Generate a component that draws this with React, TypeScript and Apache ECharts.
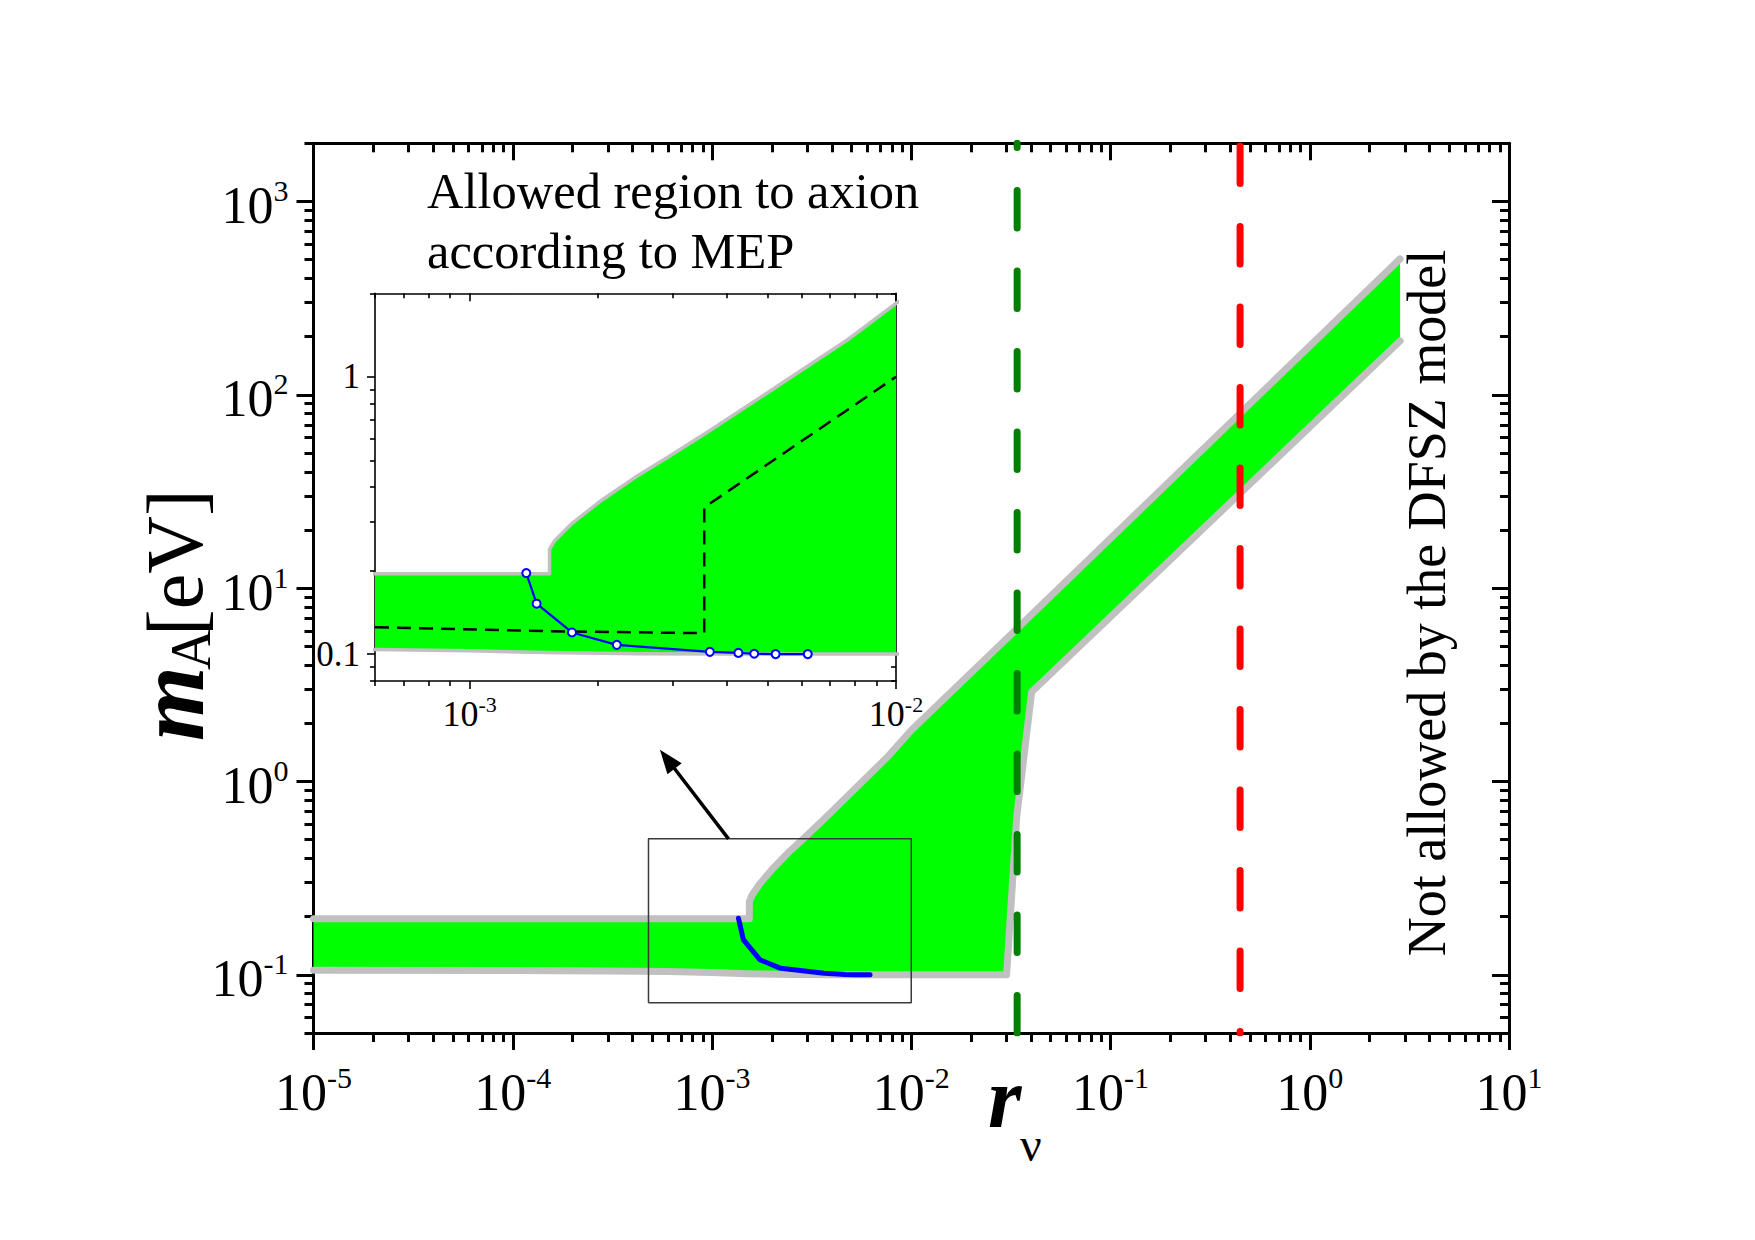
import React, { useEffect, useRef } from 'react';
import * as echarts from 'echarts';

const SERIF = '"Liberation Serif", "Times New Roman", serif';

// Axis ranges (r_nu horizontally, m_A in eV vertically)
const MAIN_R_RANGE = [1e-5, 10];
const MAIN_M_RANGE = [0.05, 2000];
const INSET_R_RANGE = [6e-4, 1e-2];
const INSET_M_RANGE = [0.08, 2];

// Allowed region: upper edge
const UPPER_R = [1e-5, 1.54e-3, 1.54e-3, 1.585e-3, 1.73e-3, 2.02e-3, 2.44e-3, 2.96e-3, 3.6e-3, 5.3e-3, 7.7e-3, 1e-2, 0.033, 2.84];
const UPPER_M = [0.195, 0.195, 0.239, 0.257, 0.294, 0.355, 0.433, 0.52, 0.63, 0.93, 1.36, 1.84, 6.0, 505];

// Allowed region: lower edge
const LOWER_R = [1e-5, 1e-4, 3e-4, 6e-4, 1e-3, 1.5e-3, 2.5e-3, 4e-3, 0.0301, 0.0338, 0.0402, 2.84];
const LOWER_M = [0.1055, 0.1052, 0.1047, 0.104, 0.1028, 0.1013, 0.1003, 0.1, 0.1, 0.65, 2.9, 190];

// MEP curve
const MEP_R = [1.358e-3, 1.436e-3, 1.738e-3, 2.214e-3, 3.66e-3, 4.27e-3, 4.65e-3, 5.22e-3, 6.21e-3];
const MEP_M = [0.196, 0.152, 0.1197, 0.108, 0.1019, 0.101, 0.1003, 0.1, 0.1];

// Dashed reference curve shown in the inset
const DASH_R = [6e-4, 1.5e-3, 3.55e-3, 3.55e-3, 1e-2];
const DASH_M = [0.125, 0.121, 0.119, 0.338, 1.0];

// Vertical limits on r_nu
const GREEN_LIMIT_R = 0.034;
const RED_LIMIT_R = 0.447;

// Zoomed window marked on the main plot, and the pointer towards the inset
const BOX_R = [4.8e-4, 1e-2];
const BOX_M = [0.0716, 0.505];
const ARROW_R = [1.21e-3, 5.48e-4];
const ARROW_M = [0.505, 1.46];

const zip = (xs: number[], ys: number[]) => xs.map((x, i) => [x, ys[i]]);

const upperEdge = zip(UPPER_R, UPPER_M);
const lowerEdge = zip(LOWER_R, LOWER_M);
const regionPolygon = upperEdge.concat(lowerEdge.slice().reverse());
const mepCurve = zip(MEP_R, MEP_M);
const dashCurve = zip(DASH_R, DASH_M);
const boxPath = [
  [BOX_R[0], BOX_M[0]],
  [BOX_R[1], BOX_M[0]],
  [BOX_R[1], BOX_M[1]],
  [BOX_R[0], BOX_M[1]],
  [BOX_R[0], BOX_M[0]],
];
const arrowPts = zip(ARROW_R, ARROW_M);

// Decade (1·10^n) and sub-decade (k·10^n) tick positions inside a range
function logTicks(lo: number, hi: number) {
  const major: number[] = [];
  const minor: number[] = [];
  const e0 = Math.floor(Math.log10(lo));
  const e1 = Math.ceil(Math.log10(hi));
  for (let n = e0; n <= e1; n++) {
    for (let k = 1; k <= 9; k++) {
      const v = Number(`${k}e${n}`);
      if (v < lo * 0.999999 || v > hi * 1.000001) continue;
      (k === 1 ? major : minor).push(v);
    }
  }
  return { major, minor };
}

const mainX = logTicks(MAIN_R_RANGE[0], MAIN_R_RANGE[1]);
const mainY = logTicks(MAIN_M_RANGE[0], MAIN_M_RANGE[1]);
const insetX = logTicks(INSET_R_RANGE[0], INSET_R_RANGE[1]);
const insetY = logTicks(INSET_M_RANGE[0], INSET_M_RANGE[1]);

const powLabel = (v: number) => `{b|10}{s|${Math.round(Math.log10(v))}}`;

const mainLabel = (margin: number) => ({
  show: true,
  margin,
  fontFamily: SERIF,
  color: '#000',
  formatter: powLabel,
  rich: {
    b: { fontFamily: SERIF, fontSize: 52, lineHeight: 52, color: '#000', padding: [8, 0, 0, 0] },
    s: { fontFamily: SERIF, fontSize: 30, lineHeight: 30, color: '#000', verticalAlign: 'top' },
  },
});

const insetXLabel = {
  show: true,
  margin: 12,
  fontFamily: SERIF,
  color: '#000',
  formatter: powLabel,
  rich: {
    b: { fontFamily: SERIF, fontSize: 36, lineHeight: 36, color: '#000', padding: [6, 0, 0, 0] },
    s: { fontFamily: SERIF, fontSize: 22, lineHeight: 22, color: '#000', verticalAlign: 'top' },
  },
};

const insetYLabel = {
  show: true,
  margin: 15,
  fontFamily: SERIF,
  fontSize: 35,
  color: '#000',
  formatter: (v: number) => String(v),
};

function logAxis(
  gridIndex: number,
  position: string,
  range: number[],
  values: number[],
  o: { len: number; width: number; inside: boolean; line?: boolean; label?: any }
) {
  return {
    type: 'log',
    logBase: 10,
    gridIndex,
    position,
    min: range[0],
    max: range[1],
    axisLine: { show: !!o.line, onZero: false, lineStyle: { color: '#000', width: o.width } },
    axisTick: {
      show: true,
      inside: o.inside,
      length: o.len,
      customValues: values,
      lineStyle: { color: '#000', width: o.width },
    },
    axisLabel: o.label ? { ...o.label, customValues: values } : { show: false },
    splitLine: { show: false },
    minorTick: { show: false },
    minorSplitLine: { show: false },
    axisPointer: { show: false },
    silent: true,
  };
}

const MW = 3; // main frame stroke
const IW = 1.6; // inset frame stroke

const xAxes = [
  // main plot
  logAxis(0, 'bottom', MAIN_R_RANGE, mainX.major, { len: 17, width: MW, inside: false, line: true, label: mainLabel(29) }),
  logAxis(0, 'bottom', MAIN_R_RANGE, mainX.minor, { len: 9, width: MW, inside: false }),
  logAxis(0, 'top', MAIN_R_RANGE, mainX.major, { len: 17, width: MW, inside: true, line: true }),
  logAxis(0, 'top', MAIN_R_RANGE, mainX.minor, { len: 9, width: MW, inside: true }),
  // inset
  logAxis(1, 'bottom', INSET_R_RANGE, insetX.major, { len: 8, width: IW, inside: false, line: true, label: insetXLabel }),
  logAxis(1, 'bottom', INSET_R_RANGE, insetX.minor, { len: 5, width: IW, inside: false }),
  logAxis(1, 'top', INSET_R_RANGE, insetX.major, { len: 8, width: IW, inside: true, line: true }),
  logAxis(1, 'top', INSET_R_RANGE, insetX.minor, { len: 5, width: IW, inside: true }),
];

const yAxes = [
  logAxis(0, 'left', MAIN_M_RANGE, mainY.major, { len: 17, width: MW, inside: false, line: true, label: mainLabel(25) }),
  logAxis(0, 'left', MAIN_M_RANGE, mainY.minor, { len: 9, width: MW, inside: false }),
  logAxis(0, 'right', MAIN_M_RANGE, mainY.major, { len: 17, width: MW, inside: true, line: true }),
  logAxis(0, 'right', MAIN_M_RANGE, mainY.minor, { len: 9, width: MW, inside: true }),
  logAxis(1, 'left', INSET_M_RANGE, insetY.major, { len: 8, width: IW, inside: false, line: true, label: insetYLabel }),
  logAxis(1, 'left', INSET_M_RANGE, insetY.minor, { len: 5, width: IW, inside: false }),
  logAxis(1, 'right', INSET_M_RANGE, insetY.major, { len: 8, width: IW, inside: true, line: true }),
  logAxis(1, 'right', INSET_M_RANGE, insetY.minor, { len: 5, width: IW, inside: true }),
];

const GREEN = '#00FF00';
const GREY = '#C0C0C0';
const BLUE = '#0000FF';

function regionSeries(axisIndex: number, edgeWidth: number) {
  return [
    {
      type: 'custom',
      xAxisIndex: axisIndex,
      yAxisIndex: axisIndex,
      clip: true,
      silent: true,
      z: 1,
      data: regionPolygon,
      renderItem: (params: any, api: any) => {
        if (params.dataIndex !== 0) return null;
        const pts = regionPolygon.map((p) => api.coord(p));
        return { type: 'polygon', shape: { points: pts }, style: { fill: GREEN } };
      },
    },
    {
      type: 'line',
      xAxisIndex: axisIndex,
      yAxisIndex: axisIndex,
      data: upperEdge,
      symbol: 'none',
      silent: true,
      z: 2,
      lineStyle: { color: GREY, width: edgeWidth, cap: 'round', join: 'round' },
    },
    {
      type: 'line',
      xAxisIndex: axisIndex,
      yAxisIndex: axisIndex,
      data: lowerEdge,
      symbol: 'none',
      silent: true,
      z: 2,
      lineStyle: { color: GREY, width: edgeWidth, cap: 'round', join: 'round' },
    },
  ];
}

function verticalLimit(r: number, color: string, offset: number) {
  return {
    type: 'line',
    xAxisIndex: 0,
    yAxisIndex: 0,
    data: [
      [r, MAIN_M_RANGE[0]],
      [r, MAIN_M_RANGE[1]],
    ],
    symbol: 'none',
    silent: true,
    z: 4,
    lineStyle: { color, width: 7, type: [37.5, 43], dashOffset: offset, cap: 'round' },
  };
}

function buildOption() {
  return {
    animation: false,
    backgroundColor: '#ffffff',
    textStyle: { fontFamily: SERIF },
    grid: [
      { left: 313.5, top: 143.3, width: 1195.5, height: 889.7, containLabel: false, outerBoundsMode: 'none' },
      {
        left: 375,
        top: 293.3,
        width: 521,
        height: 387.7,
        containLabel: false,
        outerBoundsMode: 'none',
        show: true,
        backgroundColor: '#ffffff',
        borderWidth: 0,
      },
    ],
    xAxis: xAxes,
    yAxis: yAxes,
    series: [
      // main plot
      ...regionSeries(0, 7),
      {
        type: 'line',
        xAxisIndex: 0,
        yAxisIndex: 0,
        data: mepCurve,
        symbol: 'none',
        silent: true,
        z: 3,
        lineStyle: { color: BLUE, width: 5, cap: 'round', join: 'round' },
      },
      verticalLimit(GREEN_LIMIT_R, '#008000', 0),
      verticalLimit(RED_LIMIT_R, '#FF0000', 35.5),
      {
        type: 'line',
        xAxisIndex: 0,
        yAxisIndex: 0,
        data: boxPath,
        symbol: 'none',
        silent: true,
        z: 5,
        lineStyle: { color: '#3a3a3a', width: 1.5 },
      },
      {
        type: 'custom',
        xAxisIndex: 0,
        yAxisIndex: 0,
        clip: false,
        silent: true,
        z: 6,
        data: arrowPts,
        renderItem: (params: any, api: any) => {
          if (params.dataIndex !== 0) return null;
          const a = api.coord(arrowPts[0]);
          const b = api.coord(arrowPts[1]);
          const dx = b[0] - a[0];
          const dy = b[1] - a[1];
          const len = Math.hypot(dx, dy);
          const ux = dx / len;
          const uy = dy / len;
          const headLen = 24;
          const half = 9;
          const bx = b[0] - ux * headLen;
          const by = b[1] - uy * headLen;
          return {
            type: 'group',
            children: [
              {
                type: 'line',
                shape: { x1: a[0], y1: a[1], x2: bx + ux * 4, y2: by + uy * 4 },
                style: { stroke: '#000', lineWidth: 3.5 },
              },
              {
                type: 'polygon',
                shape: {
                  points: [
                    b,
                    [bx - uy * half, by + ux * half],
                    [bx + uy * half, by - ux * half],
                  ],
                },
                style: { fill: '#000' },
              },
            ],
          };
        },
      },
      // inset
      ...regionSeries(4, 3.5),
      {
        type: 'line',
        xAxisIndex: 4,
        yAxisIndex: 4,
        data: dashCurve,
        symbol: 'none',
        silent: true,
        z: 3,
        lineStyle: { color: '#000', width: 2.5, type: [14, 8] },
      },
      {
        type: 'line',
        xAxisIndex: 4,
        yAxisIndex: 4,
        data: mepCurve,
        symbol: 'emptyCircle',
        symbolSize: 8,
        silent: true,
        z: 4,
        itemStyle: { color: BLUE, borderColor: BLUE, borderWidth: 1.4 },
        lineStyle: { color: BLUE, width: 2.2 },
      },
    ],
    graphic: [
      {
        type: 'text',
        x: 427,
        y: 191,
        silent: true,
        style: { text: 'Allowed region to axion', font: `50.5px ${SERIF}`, fill: '#000', align: 'left', verticalAlign: 'middle' },
      },
      {
        type: 'text',
        x: 427,
        y: 251,
        silent: true,
        style: { text: 'according to MEP', font: `50.5px ${SERIF}`, fill: '#000', align: 'left', verticalAlign: 'middle' },
      },
      {
        type: 'text',
        x: 1427,
        y: 603,
        rotation: Math.PI / 2,
        silent: true,
        style: {
          text: 'Not allowed by the DFSZ model',
          font: `54px ${SERIF}`,
          fill: '#000',
          align: 'center',
          verticalAlign: 'middle',
        },
      },
      // axis title m_A [eV]
      {
        type: 'group',
        x: 202,
        y: 741,
        rotation: Math.PI / 2,
        silent: true,
        children: [
          {
            type: 'text',
            x: 0,
            y: -32,
            style: { text: 'm', font: `italic bold 96px ${SERIF}`, fill: '#000', align: 'left', verticalAlign: 'middle' },
          },
          {
            type: 'text',
            x: 71,
            y: -11,
            style: { text: 'A', font: `56px ${SERIF}`, fill: '#000', align: 'left', verticalAlign: 'middle' },
          },
          {
            type: 'text',
            x: 105,
            y: -27,
            style: { text: '[eV]', font: `80px ${SERIF}`, fill: '#000', align: 'left', verticalAlign: 'middle' },
          },
        ],
      },
      // axis title r_nu
      {
        type: 'text',
        x: 988,
        y: 1098,
        silent: true,
        style: { text: 'r', font: `italic bold 86px ${SERIF}`, fill: '#000', align: 'left', verticalAlign: 'middle' },
      },
      {
        type: 'text',
        x: 1020,
        y: 1144,
        silent: true,
        style: { text: 'ν', font: `48px ${SERIF}`, fill: '#000', align: 'left', verticalAlign: 'middle' },
      },
    ],
  };
}

export default function App() {
  const ref = useRef<HTMLDivElement>(null);
  useEffect(() => {
    if (!ref.current) return;
    const chart = echarts.init(ref.current, null, { renderer: 'svg' });
    chart.setOption(buildOption() as any);
    return () => chart.dispose();
  }, []);
  return (
    <div
      ref={ref}
      style={{ position: 'fixed', left: 0, top: 0, width: 1755, height: 1240, background: '#ffffff' }}
    />
  );
}
